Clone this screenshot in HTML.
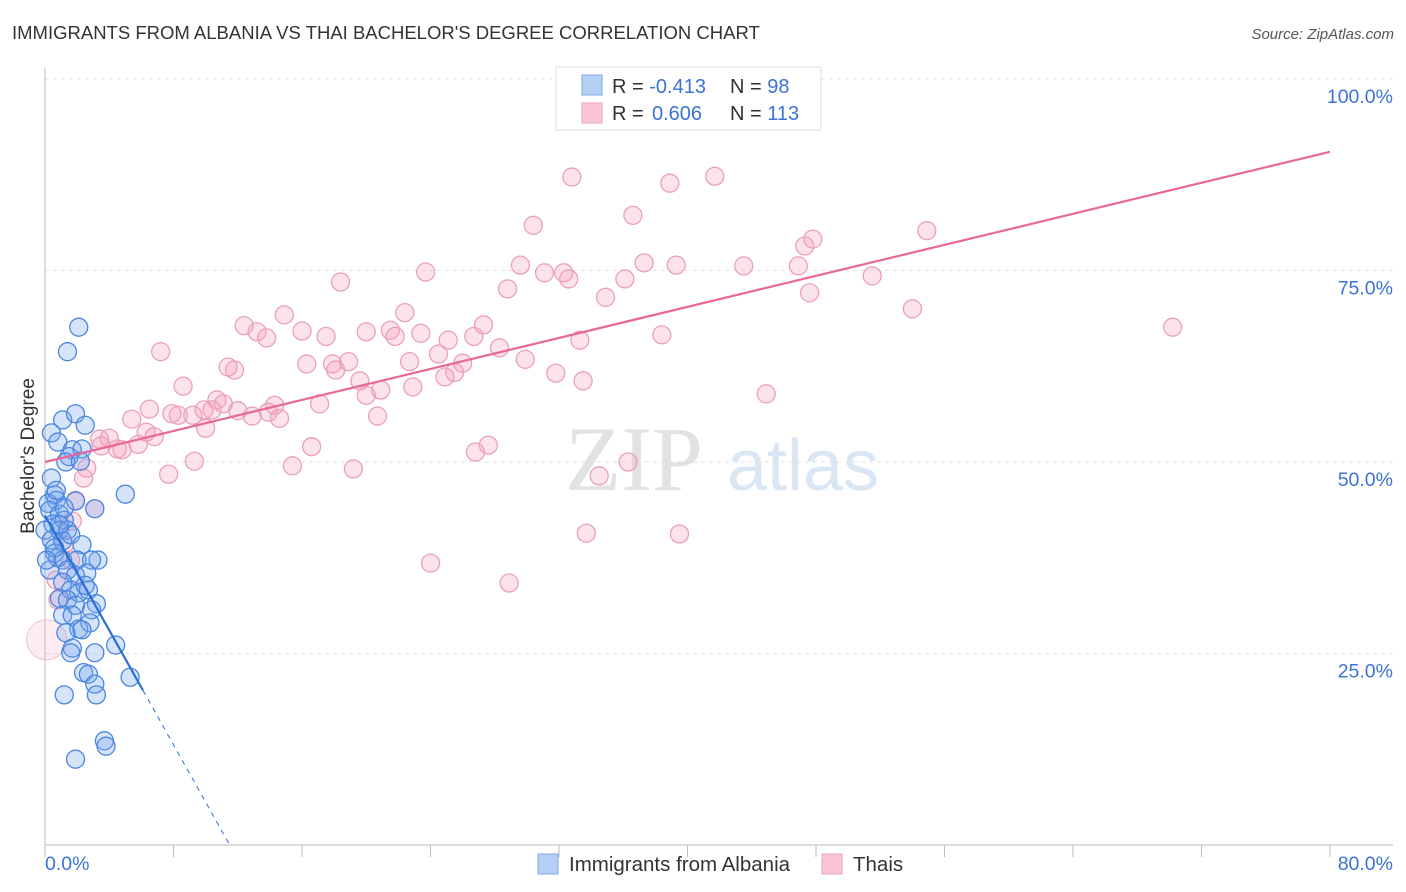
<!DOCTYPE html>
<html><head><meta charset="utf-8">
<style>
body{margin:0;background:#fff;font-family:"Liberation Sans",sans-serif;}
#wrap{position:relative;width:1406px;height:892px;overflow:hidden;}
</style></head>
<body><div id="wrap">
<svg id="svg" width="1406" height="892" xmlns="http://www.w3.org/2000/svg">
<text x="12" y="39" font-size="18.5" fill="#333">IMMIGRANTS FROM ALBANIA VS THAI BACHELOR'S DEGREE CORRELATION CHART</text>
<text x="1394" y="39" font-size="15" fill="#555" text-anchor="end" font-style="italic">Source: ZipAtlas.com</text>
<g>
<text x="634" y="490" font-size="92" fill="#e2e2e2" text-anchor="middle" font-family="Liberation Serif,serif">ZIP</text>
<text x="803" y="490" font-size="72" fill="#dbe6f5" text-anchor="middle">atlas</text>
</g>
<g id="grid"></g>
<g id="axes"></g>
<g id="marks"></g>
<text transform="translate(34,456) rotate(-90)" font-size="19" fill="#333" text-anchor="middle">Bachelor's Degree</text>
<text x="45" y="870" font-size="19.5" fill="#3b73d6">0.0%</text>
<text x="1393" y="870" font-size="19.5" fill="#3b73d6" text-anchor="end">80.0%</text>
<g>
<rect x="556" y="67" width="265" height="63" fill="#fff" stroke="#ddd"/>
<rect x="582" y="75" width="20" height="20" fill="#b5d0f5" stroke="#7ea7e6"/>
<rect x="582" y="103" width="20" height="20" fill="#f9c4d4" stroke="#eba3ba"/>
<text x="612" y="93" font-size="20" fill="#333">R = <tspan fill="#3b73d6">-0.413</tspan><tspan x="730">N = </tspan><tspan fill="#3b73d6">98</tspan></text>
<text x="612" y="120" font-size="20" fill="#333">R = <tspan fill="#3b73d6" x="652">0.606</tspan><tspan x="730">N = </tspan><tspan fill="#3b73d6">113</tspan></text>
</g>
<g>
<rect x="538" y="854" width="20" height="20" fill="#b5d0f5" stroke="#7ea7e6"/>
<text x="569" y="871" font-size="20.5" fill="#333">Immigrants from Albania</text>
<rect x="822" y="854" width="20" height="20" fill="#f9c4d4" stroke="#eba3ba"/>
<text x="853" y="871" font-size="20.5" fill="#333">Thais</text>
</g>
</svg></div>
<script>
const yTicks=[25,50,75,100];
const xTicks=[0,8,16,24,32,40,48,56,64,72,80];
const thaiX=[32.8,41.7,38.9,30.4,36.6,54.9,47.8,47.3,29.6,23.7,31.1,32.3,32.6,37.3,39.3,43.5,46.9,51.5,28.8,34.9,36.1,47.6,18.4,54.0,70.2,14.9,22.4,12.4,13.2,13.8,16.0,17.5,20.0,21.5,21.8,23.4,25.1,26.7,27.3,38.4,33.3,28.3,7.2,22.7,24.5,26.0,25.5,24.9,29.9,31.8,33.5,11.4,11.8,16.3,17.9,18.1,18.9,19.6,20.9,22.9,8.6,10.7,11.1,10.4,17.1,20.0,44.9,6.5,7.9,8.3,9.2,9.9,10.0,12.0,12.9,13.9,14.3,14.6,20.7,5.4,6.3,6.8,3.4,4.0,4.5,3.5,4.8,5.8,16.6,27.6,26.8,9.3,15.4,19.2,36.3,34.5,7.7,2.6,2.4,1.9,3.1,1.7,33.7,39.5,24.0,28.9,1.2,1.6,0.7,0.8];
const thaiY=[87.2,87.3,86.4,80.9,82.2,80.2,79.1,78.2,75.7,74.8,74.7,74.7,73.9,76.0,75.7,75.6,75.6,74.3,72.6,71.5,73.9,72.1,73.5,70.0,67.6,69.2,69.5,67.8,67.0,66.2,67.1,66.4,67.0,67.2,66.4,66.8,65.9,66.4,67.9,66.6,65.9,64.9,64.4,63.1,64.1,62.9,61.7,61.1,63.4,61.6,60.6,62.4,62.0,62.8,62.8,62.0,63.1,60.6,59.4,59.8,59.9,58.1,57.6,56.8,57.6,58.7,58.9,56.9,56.3,56.1,56.1,56.8,54.4,56.7,56.0,56.5,57.4,55.7,56.0,55.6,53.9,53.3,53.0,53.1,51.7,52.1,51.6,52.3,52.0,52.2,51.3,50.1,49.5,49.1,50.0,48.2,48.4,49.2,47.9,45.0,43.9,42.3,40.7,40.6,36.8,34.2,39.2,37.2,34.6,32.0];
const albX=[2.1,1.4,1.1,1.9,2.5,0.4,0.8,1.7,2.3,1.5,1.3,2.2,0.4,0.6,0.7,0.2,1.9,5.0,0.3,0.9,3.1,1.2,0.5,0.9,1.4,0.0,0.4,1.1,1.6,2.3,0.6,0.8,1.1,2.0,3.3,2.9,0.3,1.4,1.9,2.6,1.1,1.6,2.1,2.7,0.9,1.4,1.9,3.2,2.9,1.1,1.7,2.1,2.8,2.3,1.3,3.1,1.7,1.6,4.4,2.4,2.7,3.1,5.3,1.2,3.2,3.7,3.8,1.9,0.7,1.2,0.6,0.1,2.5,0.9];
const albY=[67.6,64.4,55.5,56.3,54.8,53.8,52.6,51.6,51.7,50.7,50.0,50.1,47.9,45.7,45.0,44.6,44.9,45.8,43.7,43.2,43.9,42.4,41.9,41.1,41.1,41.1,39.8,39.7,40.5,39.2,38.1,37.5,37.2,37.2,37.2,37.2,35.9,35.9,35.2,35.5,34.3,33.3,32.9,33.3,32.2,32.0,31.3,31.5,30.7,30.0,30.0,28.2,29.0,28.1,27.7,25.1,25.7,25.1,26.1,22.5,22.3,21.0,21.9,19.6,19.6,13.6,12.9,11.2,46.3,44.0,38.8,37.2,33.9,41.8];
const thaiLine=[50.0,90.5];
const albLine=[43.0,-3.74];
const X0=45,X1=1330,Y0=845,Y100=79;
const sx=v=>X0+(X1-X0)*v/80;
const sy=v=>Y0-(Y0-Y100)*v/100;
const NS="http://www.w3.org/2000/svg";
function mk(parent,tag,attrs){const e=document.createElementNS(NS,tag);for(const k in attrs)e.setAttribute(k,attrs[k]);parent.appendChild(e);return e;}
const grid=document.getElementById('grid'),axes=document.getElementById('axes'),marks=document.getElementById('marks');
yTicks.forEach(t=>{
  const l=mk(grid,'line',{x1:X0,x2:1393,y1:sy(t),y2:sy(t),stroke:'#e2e2e2','stroke-dasharray':'4,4'});
  
  
  const tx=mk(axes,'text',{x:1393,y:sy(t)+24,'font-size':19.5,fill:'#3b73d6','text-anchor':'end'});
  tx.textContent=t.toFixed(1)+'%';
  
  
});
const ya=mk(axes,'line',{x1:X0,x2:X0,y1:68,y2:Y0,stroke:'#bbb'});


const xa=mk(axes,'line',{x1:X0,x2:1393,y1:Y0,y2:Y0,stroke:'#bbb'});


xTicks.forEach(t=>{
  const l=mk(axes,'line',{x1:sx(t),x2:sx(t),y1:Y0,y2:Y0+12,stroke:'#bbb'});
  
  
});
const big=mk(marks,'circle',{cx:sx(0.1),cy:sy(26.8),r:20,fill:'rgba(244,160,188,0.2)',stroke:'#f0c0d0','stroke-width':1});


thaiX.forEach((v,i)=>{
  const c=mk(marks,'circle',{cx:sx(v),cy:sy(thaiY[i]),r:9,fill:'rgba(244,160,188,0.3)',stroke:'#eaa0ba','stroke-width':1.3});
  
  
});
albX.forEach((v,i)=>{
  const c=mk(marks,'circle',{cx:sx(v),cy:sy(albY[i]),r:9,fill:'rgba(120,165,235,0.3)',stroke:'#4a86e0','stroke-width':1.3});
  
  
});
const tl=mk(marks,'line',{x1:sx(0),y1:sy(thaiLine[0]),x2:sx(80),y2:sy(thaiLine[1]),stroke:'#e8679a','stroke-width':2.2});


const xEnd=6.1, xZero=-albLine[0]/albLine[1];
const al=mk(marks,'line',{x1:sx(0),y1:sy(albLine[0]),x2:sx(xEnd),y2:sy(albLine[0]+albLine[1]*xEnd),stroke:'#2a6fd6','stroke-width':2.2});


const ad=mk(marks,'line',{x1:sx(xEnd),y1:sy(albLine[0]+albLine[1]*xEnd),x2:sx(xZero),y2:sy(0),stroke:'#2a6fd6','stroke-width':1,'stroke-dasharray':'5,5'});


</script>
</body></html>
